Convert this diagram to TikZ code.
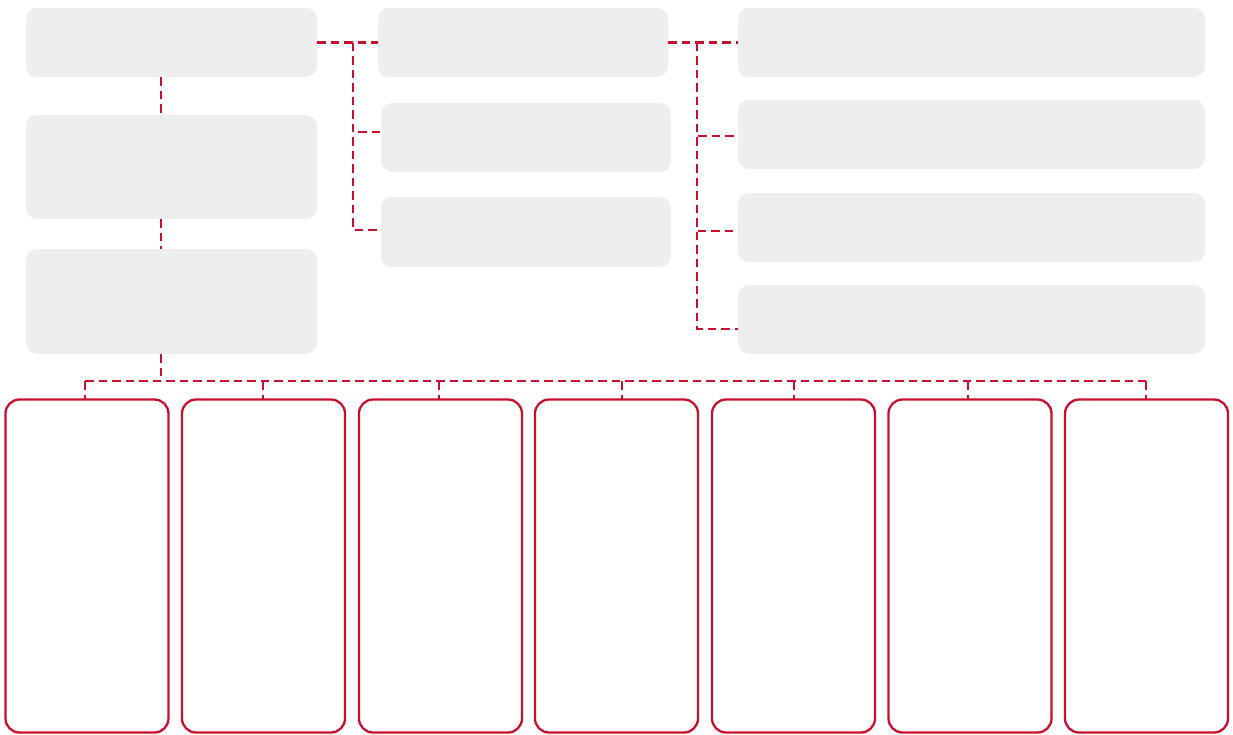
\documentclass[tikz,border=0pt]{standalone}
\usetikzlibrary{calc}
\definecolor{boxgrey}{HTML}{EEEEEE}
\definecolor{linered}{HTML}{C8102E}
\begin{document}
\begin{tikzpicture}[x=1pt,y=-1pt,
  gbox/.style={fill=boxgrey,draw=none,rounded corners=11pt,inner sep=0pt,outer sep=0pt},
  rbox/.style={draw=linered,fill=white,line width=2.3pt,rounded corners=14pt,inner sep=0pt,outer sep=0pt,minimum width=163pt,minimum height=333pt},
  conn/.style={draw=linered,line width=2.5pt,dash pattern=on 8.5pt off 5pt}]
\useasboundingbox (0,0) rectangle (1233,734);
% grey boxes
\node[gbox,minimum width=291pt,minimum height=69pt] (A) at (171.5,42.5) {};
\node[gbox,minimum width=291pt,minimum height=104pt] (B) at (171.5,167) {};
\node[gbox,minimum width=291pt,minimum height=105pt] (C) at (171.5,301.5) {};
\node[gbox,minimum width=290pt,minimum height=69pt] (M1) at (523,42.5) {};
\node[gbox,minimum width=290pt,minimum height=69pt] (M2) at (526,137.5) {};
\node[gbox,minimum width=290pt,minimum height=70pt] (M3) at (526,232) {};
\node[gbox,minimum width=467pt,minimum height=69pt] (R1) at (971.5,42.5) {};
\node[gbox,minimum width=467pt,minimum height=69pt] (R2) at (971.5,134.5) {};
\node[gbox,minimum width=467pt,minimum height=69pt] (R3) at (971.5,227.5) {};
\node[gbox,minimum width=467pt,minimum height=69pt] (R4) at (971.5,319.5) {};
% red boxes
\node[rbox] (P1) at (87,566) {};
\node[rbox] (P2) at (263.5,566) {};
\node[rbox] (P3) at (440.5,566) {};
\node[rbox] (P4) at (616.5,566) {};
\node[rbox] (P5) at (793.5,566) {};
\node[rbox] (P6) at (970,566) {};
\node[rbox] (P7) at (1146.5,566) {};
% coordinates
\coordinate (t1) at (353,42.5);
\coordinate (t2) at (697,42.5);
\coordinate (bus) at (161,381);
\coordinate (d1) at (85,381);
\coordinate (d2) at (263,381);
\coordinate (d3) at (439,381);
\coordinate (d4) at (622,381);
\coordinate (d5) at (794,381);
\coordinate (d6) at (968,381);
\coordinate (d7) at (1146,381);
% left column
\draw[conn] (A.south -| bus) -- (B.north -| bus);
\draw[conn] (B.south -| bus) -- (C.north -| bus);
\draw[conn] (C.south -| bus) -- (bus);
% A to middle column
\draw[conn] (A.east) -- (M1.west);
\draw[conn] (t1) |- ([yshift=5.5pt]M2.west);
\draw[conn] (t1) |- ([yshift=2pt]M3.west);
% middle to right column
\draw[conn] (M1.east) -- (R1.west);
\draw[conn] (t2) |- ([yshift=-1.5pt]R2.west);
\draw[conn] (t2) |- ([yshift=-3.5pt]R3.west);
\draw[conn] (t2) |- ([yshift=-9.5pt]R4.west);
% bottom bus
\draw[conn] (d1) -- (d7);
\draw[conn] (d1) -- (d1 |- P1.north);
\draw[conn] (d2) -- (d2 |- P2.north);
\draw[conn] (d3) -- (d3 |- P3.north);
\draw[conn] (d4) -- (d4 |- P4.north);
\draw[conn] (d5) -- (d5 |- P5.north);
\draw[conn] (d6) -- (d6 |- P6.north);
\draw[conn] (d7) -- (d7 |- P7.north);
\end{tikzpicture}
\end{document}
